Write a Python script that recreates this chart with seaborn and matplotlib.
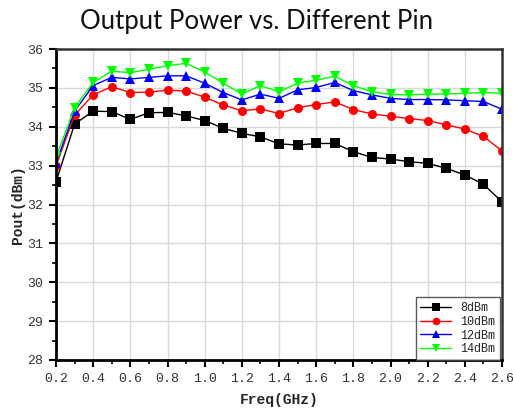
import numpy as np
import pandas as pd
import matplotlib
matplotlib.use("Agg")
import matplotlib.pyplot as plt
from matplotlib.ticker import MultipleLocator
import seaborn as sns

freq = [0.2, 0.3, 0.4, 0.5, 0.6, 0.7, 0.8, 0.9, 1.0, 1.1, 1.2, 1.3, 1.4,
        1.5, 1.6, 1.7, 1.8, 1.9, 2.0, 2.1, 2.2, 2.3, 2.4, 2.5, 2.6]

pout_8dbm = [32.58, 34.07, 34.40, 34.39, 34.19, 34.36, 34.37, 34.28, 34.16,
             33.96, 33.83, 33.74, 33.56, 33.53, 33.57, 33.57, 33.36, 33.21,
             33.17, 33.10, 33.06, 32.93, 32.76, 32.52, 32.07]
pout_10dbm = [32.99, 34.30, 34.82, 35.03, 34.88, 34.89, 34.94, 34.92, 34.76,
              34.56, 34.41, 34.46, 34.34, 34.49, 34.57, 34.64, 34.44, 34.33,
              34.27, 34.21, 34.16, 34.05, 33.94, 33.75, 33.38]
pout_12dbm = [33.06, 34.40, 35.06, 35.27, 35.23, 35.27, 35.31, 35.31, 35.12,
              34.88, 34.69, 34.84, 34.73, 34.95, 35.01, 35.14, 34.93, 34.82,
              34.73, 34.70, 34.70, 34.69, 34.67, 34.65, 34.45]
pout_14dbm = [33.21, 34.49, 35.14, 35.43, 35.39, 35.48, 35.57, 35.63, 35.41,
              35.12, 34.84, 35.06, 34.90, 35.12, 35.20, 35.30, 35.06, 34.90,
              34.83, 34.82, 34.84, 34.84, 34.86, 34.88, 34.86]

series_names = ["8dBm", "10dBm", "12dBm", "14dBm"]
series_values = [pout_8dbm, pout_10dbm, pout_12dbm, pout_14dbm]

x_ticks = [0.2, 0.4, 0.6, 0.8, 1.0, 1.2, 1.4, 1.6, 1.8, 2.0, 2.2, 2.4, 2.6]
y_ticks = [28, 29, 30, 31, 32, 33, 34, 35, 36]

df = pd.DataFrame({
    "Freq": np.tile(freq, len(series_names)),
    "Pout": np.concatenate(series_values),
    "Pin": np.repeat(series_names, len(freq)),
})

sns.set_theme(style="white")
plt.rcParams["font.family"] = ["DejaVu Sans"]

palette = {"8dBm": "#000000", "10dBm": "#ff0000", "12dBm": "#0000ff", "14dBm": "#00ff00"}
markers = {"8dBm": "s", "10dBm": "o", "12dBm": "^", "14dBm": "v"}

fig = plt.figure(figsize=(5.13, 4.09), dpi=100)
ax = fig.add_axes([56 / 513, 1 - 360 / 409, (502 - 56) / 513, (360 - 49) / 409])

sns.lineplot(data=df, x="Freq", y="Pout", hue="Pin", style="Pin",
             hue_order=series_names, style_order=series_names,
             palette=palette, markers=markers, dashes=False,
             markersize=6.5, markeredgewidth=0, linewidth=1.0, ax=ax)

ax.set_xlim(0.2, 2.6)
ax.set_ylim(28, 36)
ax.set_xticks(x_ticks)
ax.set_yticks(y_ticks)
ax.set_xticklabels([f"{v:.1f}" for v in x_ticks])
ax.set_yticklabels([str(v) for v in y_ticks])
ax.xaxis.set_minor_locator(MultipleLocator(0.1))
ax.yaxis.set_minor_locator(MultipleLocator(0.5))

ax.grid(True, which="major", color="#d9d9d9", linewidth=1.0)
ax.set_axisbelow(True)

ax.tick_params(axis="both", which="major", direction="out", length=5, width=1.5,
               color="black", bottom=True, left=True, labelsize=9.5, pad=4)
ax.tick_params(axis="both", which="minor", direction="out", length=3, width=1.2,
               color="black", bottom=True, left=True)
for lab in ax.get_xticklabels() + ax.get_yticklabels():
    lab.set_fontfamily("Liberation Mono")
    lab.set_color("#333333")

for side in ["left", "bottom"]:
    ax.spines[side].set_color("black")
    ax.spines[side].set_linewidth(2.0)
for side in ["top", "right"]:
    ax.spines[side].set_color("#333333")
    ax.spines[side].set_linewidth(1.8)

ax.set_xlabel("Freq(GHz)", fontfamily="Liberation Mono", fontweight="bold",
              fontsize=10.5, labelpad=6)
ax.set_ylabel("Pout(dBm)", fontfamily="Liberation Mono", fontweight="bold",
              fontsize=10.5, labelpad=6)
ax.yaxis.set_label_coords(-0.07, 0.5)

fig.text(0.5, 1 - 9 / 409, "Output Power vs. Different Pin", ha="center", va="top",
         fontsize=18.5, fontfamily="Lato", color="#111111")

leg = ax.legend(loc="lower right", bbox_to_anchor=(0.996, 0.0), borderaxespad=0.0,
                prop={"family": "Liberation Mono", "size": 8.5},
                frameon=True, fancybox=False, labelspacing=0.15,
                handlelength=2.6, handletextpad=0.8, borderpad=0.4)
leg.get_frame().set_edgecolor("#333333")
leg.get_frame().set_linewidth(1.0)
for line in leg.get_lines():
    line.set_markersize(5.5)

fig.savefig("out.png", dpi=100)
